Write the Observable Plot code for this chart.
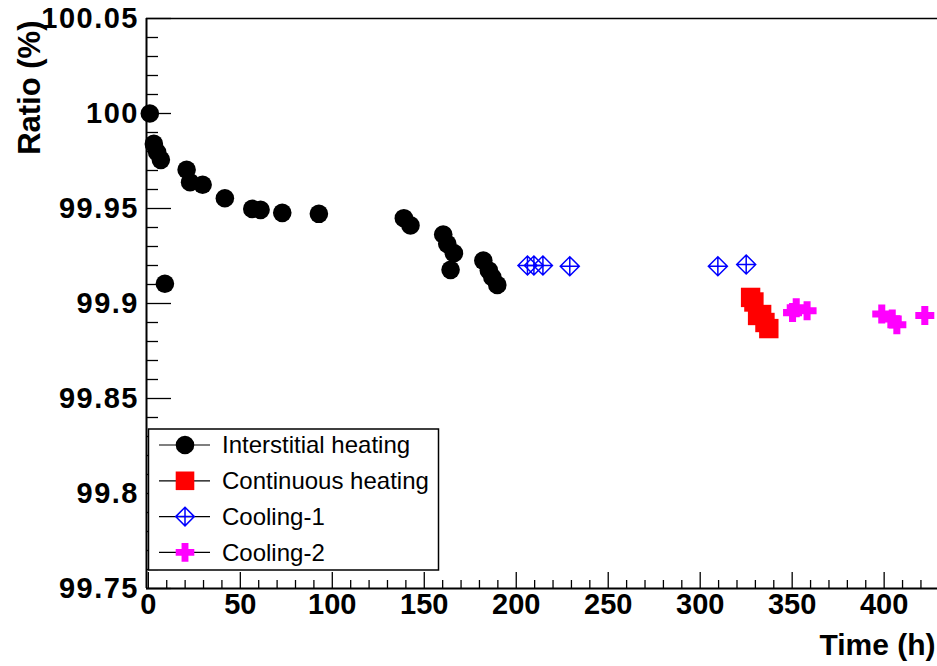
<!DOCTYPE html>
<html>
<head>
<meta charset="utf-8">
<script src="https://cdn.jsdelivr.net/npm/d3@7"></script>
<script src="https://cdn.jsdelivr.net/npm/@observablehq/plot@0.6"></script>
<style>
  html, body { margin: 0; padding: 0; background: #fff; }
  #chart svg { display: block; }
  #chart g[aria-label="y-axis tick label"] text { letter-spacing: 1.5px; }
</style>
</head>
<body>
<div id="chart"></div>
<script>
// ---- data ----
const interstitialTime  = [0.8, 3.0, 4.8, 6.8, 9.0, 20.8, 22.7, 29.5, 41.6, 56.5, 61.0, 72.8, 92.7, 138.9, 142.5, 160.3, 162.5, 164.3, 166.1, 182.1, 185.1, 187.0, 189.7];
const interstitialRatio = [100.0, 99.984, 99.9796, 99.9756, 99.9104, 99.9704, 99.9638, 99.9625, 99.9554, 99.9498, 99.9493, 99.9477, 99.9472, 99.9449, 99.9411, 99.9363, 99.9314, 99.9177, 99.9265, 99.9226, 99.9174, 99.9138, 99.9098];

const continuousTime  = [327.4, 329.2, 331.2, 333.4, 335.2, 337.3];
const continuousRatio = [99.9032, 99.9008, 99.8937, 99.8942, 99.8900, 99.8868];

const cooling1Time  = [206.1, 209.6, 214.5, 229.1, 309.6, 325.0];
const cooling1Ratio = [99.9200, 99.9200, 99.9200, 99.9196, 99.9196, 99.9205];

const cooling2Time  = [350.2, 352.2, 358.1, 398.7, 404.4, 406.9, 422.1];
const cooling2Ratio = [99.8952, 99.8978, 99.8962, 99.8945, 99.8918, 99.8888, 99.8937];

const xTicks = [0, 50, 100, 150, 200, 250, 300, 350, 400];
const yTicks = [99.75, 99.8, 99.85, 99.9, 99.95, 100, 100.05];
const seriesNames = ["Interstitial heating", "Continuous heating", "Cooling-1", "Cooling-2"];
const xTitle = "Time (h)";
const yTitle = "Ratio (%)";

// ---- helpers ----
const zip = (t, r) => t.map((d, i) => ({t: d, r: r[i]}));
const interstitial = zip(interstitialTime, interstitialRatio);
const continuous = zip(continuousTime, continuousRatio);
const cooling1 = zip(cooling1Time, cooling1Ratio);
const cooling2 = zip(cooling2Time, cooling2Ratio);

const xMinor = d3.range(0, 430, 10).filter(v => v % 50 !== 0);
const yMinor = d3.range(0, 31).map(i => +(99.75 + i * 0.01).toFixed(2)).filter(v => !yTicks.some(t => Math.abs(t - v) < 1e-9));

const half = size => Math.sqrt(size / Math.PI);
const squareSym = { draw(ctx, size) { const h = half(size); ctx.rect(-h, -h, 2 * h, 2 * h); } };
const diamondCrossSym = { draw(ctx, size) {
  const h = half(size);
  ctx.moveTo(0, -h); ctx.lineTo(h, 0); ctx.lineTo(0, h); ctx.lineTo(-h, 0); ctx.closePath();
  ctx.moveTo(-h, 0); ctx.lineTo(h, 0); ctx.moveTo(0, -h); ctx.lineTo(0, h);
} };
const plusSym = { draw(ctx, size) {
  const h = half(size), a = h * 0.37;
  ctx.moveTo(-a, -h); ctx.lineTo(a, -h); ctx.lineTo(a, -a); ctx.lineTo(h, -a); ctx.lineTo(h, a);
  ctx.lineTo(a, a); ctx.lineTo(a, h); ctx.lineTo(-a, h); ctx.lineTo(-a, a); ctx.lineTo(-h, a);
  ctx.lineTo(-h, -a); ctx.lineTo(-a, -a); ctx.closePath();
} };

const W = 937, H = 666, mL = 146, mR = 0, mT = 18, mB = 78;
const innerW = W - mL - mR, innerH = H - mT - mB;
const fmt = d => String(+d.toFixed(2));
const FONT = "'Liberation Sans', Arial, Helvetica, sans-serif";

const chart = Plot.plot({
  width: W, height: H,
  marginLeft: mL, marginRight: mR, marginTop: mT, marginBottom: mB,
  style: { fontFamily: FONT, background: "#fff", overflow: "visible" },
  x: { domain: [-1, 429] },
  y: { domain: [99.75, 100.05] },
  marks: [
    // tick marks (inside)
    Plot.ruleX(xTicks, { x: d => d, insetTop: innerH - 16, stroke: "#000", strokeWidth: 1.3 }),
    Plot.ruleX(xMinor, { x: d => d, insetTop: innerH - 8, stroke: "#000", strokeWidth: 1.3 }),
    Plot.ruleY(yTicks, { y: d => d, insetRight: innerW - 25, stroke: "#000", strokeWidth: 1.3 }),
    Plot.ruleY(yMinor, { y: d => d, insetRight: innerW - 12, stroke: "#000", strokeWidth: 1.3 }),
    // frame
    Plot.ruleY([100.05], { stroke: "#000", strokeWidth: 1.5 }),
    Plot.ruleY([99.75], { stroke: "#000", strokeWidth: 2 }),
    Plot.ruleX([-1], { stroke: "#000", strokeWidth: 2 }),
    // axes labels
    Plot.axisX({ ticks: xTicks, tickSize: 0, tickPadding: 5, tickFormat: d => String(d), label: null,
      fontSize: 29, fontWeight: "bold", fill: "#000" }),
    Plot.axisY({ ticks: yTicks, tickSize: 0, tickPadding: 7.5, tickFormat: fmt, label: null,
      fontSize: 29, fontWeight: "bold", fill: "#000" }),
    Plot.text([yTitle], { frameAnchor: "top-left", dx: -116, dy: 2, rotate: -90, textAnchor: "end",
      lineAnchor: "middle", fontSize: 31, fontWeight: "bold", fill: "#000" }),
    Plot.text([xTitle], { frameAnchor: "bottom-right", dx: -2, dy: 57, textAnchor: "end",
      lineAnchor: "middle", fontSize: 30, fontWeight: "bold", fill: "#000" }),
    // data
    Plot.dot(interstitial, { x: "t", y: "r", r: 9.3, fill: "#000", stroke: "none" }),
    Plot.dot(continuous, { x: "t", y: "r", r: 9.7, symbol: squareSym, fill: "#ff0000", stroke: "none" }),
    Plot.dot(cooling1, { x: "t", y: "r", r: 9.5, symbol: diamondCrossSym, fill: "none", stroke: "#0000ff", strokeWidth: 1.5 }),
    Plot.dot(cooling2, { x: "t", y: "r", r: 9.5, symbol: plusSym, fill: "#ff00ff", stroke: "none" })
  ]
});
document.getElementById("chart").appendChild(chart);

// ---- legend (drawn over the plot frame, like the reference) ----
const svg = d3.select(chart);
const lg = svg.append("g").attr("font-family", FONT).attr("text-anchor", "start");
lg.append("rect").attr("x", 148.5).attr("y", 429).attr("width", 290).attr("height", 141)
  .attr("fill", "#fff").attr("stroke", "#000").attr("stroke-width", 1.5);
const legendStyles = [
  { sym: d3.symbolCircle, fill: "#000", stroke: "none" },
  { sym: squareSym, fill: "#ff0000", stroke: "none" },
  { sym: diamondCrossSym, fill: "none", stroke: "#0000ff" },
  { sym: plusSym, fill: "#ff00ff", stroke: "none" }
];
seriesNames.forEach((name, i) => {
  const cy = 445 + i * 35.8;
  lg.append("line").attr("x1", 159).attr("x2", 210).attr("y1", cy).attr("y2", cy)
    .attr("stroke", "#000").attr("stroke-width", 1.2);
  const st = legendStyles[i];
  lg.append("path").attr("transform", `translate(185,${cy})`)
    .attr("d", d3.symbol(st.sym, Math.PI * 9.3 * 9.3)())
    .attr("fill", st.fill).attr("stroke", st.stroke).attr("stroke-width", 1.5);
  lg.append("text").attr("x", 222).attr("y", cy).attr("dy", "0.35em")
    .attr("text-anchor", "start").attr("font-size", 24).attr("fill", "#000").text(name);
});
</script>
</body>
</html>
